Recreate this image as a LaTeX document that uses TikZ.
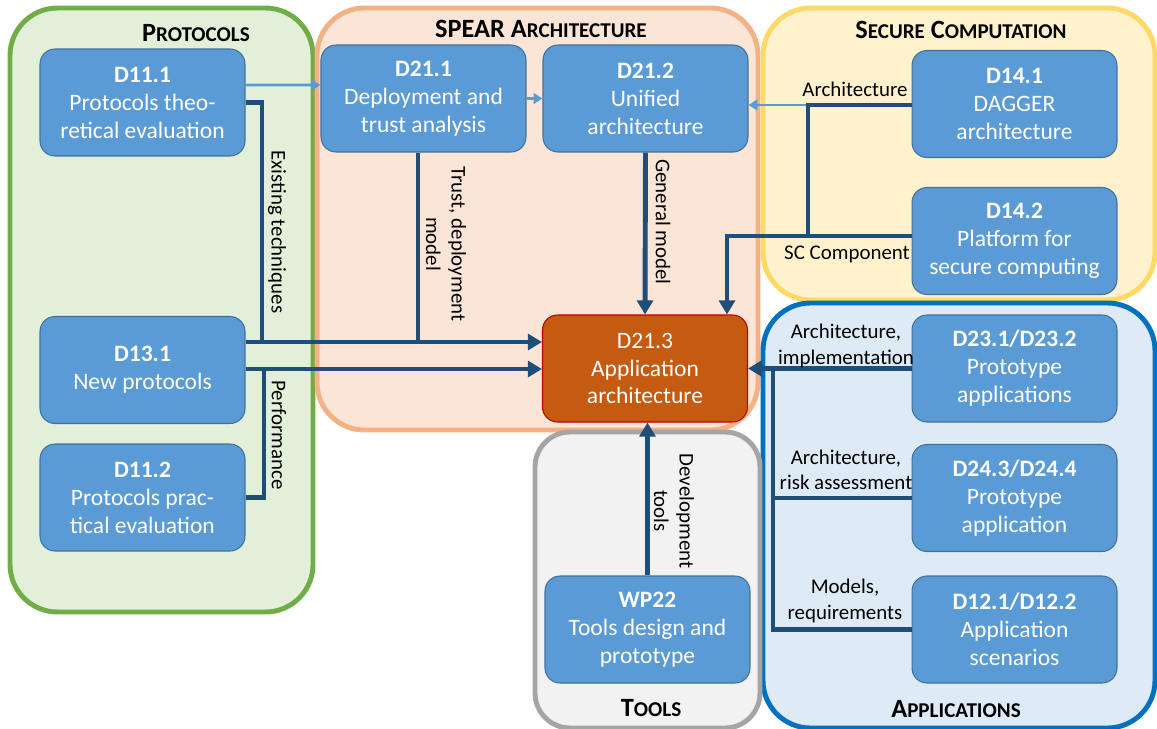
\documentclass[tikz,border=0pt]{standalone}
\usepackage{fontspec}
\setmainfont{Carlito}
\usetikzlibrary{arrows.meta}
\definecolor{boxfill}{HTML}{5B9BD5}
\definecolor{boxline}{HTML}{41719C}
\definecolor{corefill}{HTML}{C55A11}
\definecolor{coreline}{HTML}{C00000}
\definecolor{darkline}{HTML}{1F4E79}
\definecolor{protline}{HTML}{70AD47}
\definecolor{protfill}{HTML}{E2F0D9}
\definecolor{spearline}{HTML}{F4B183}
\definecolor{spearfill}{HTML}{FBE5D6}
\definecolor{secline}{HTML}{FFD966}
\definecolor{secfill}{HTML}{FFF2CC}
\definecolor{appline}{HTML}{0070C0}
\definecolor{appfill}{HTML}{DEEBF7}
\definecolor{toolline}{HTML}{A5A5A5}
\definecolor{toolfill}{HTML}{F2F2F2}
\newcommand{\lowcaps}[1]{{\fontsize{12}{13}\selectfont #1}}
\tikzset{
	wp/.style={draw=boxline, fill=boxfill, line width=0.6pt, rounded corners=0.3cm,
		minimum width=4.1cm, minimum height=2.14cm, text=white, align=center,
		font=\fontsize{13.4}{15.9}\selectfont},
	core/.style={wp, draw=coreline, fill=corefill},
	grp/.style={line width=2.8pt, rounded corners=0.95cm},
	ttl/.style={font=\bfseries\fontsize{15}{16}\selectfont},
	heavy/.style={draw=darkline, line width=2.8pt},
	lite/.style={draw=boxfill, line width=1.5pt, -{Triangle[length=5pt,width=6pt]}},
	lab/.style={font=\fontsize{11.9}{14.5}\selectfont, align=center}
}
\begin{document}
\begin{tikzpicture}[x=0.02cm, y=-0.02cm, >={Triangle[length=8pt,width=9pt]}]
	\useasboundingbox (0,0) rectangle (1157,728);
	\clip (0,0) rectangle (1157,728);
	% groups
	\draw[grp, draw=protline, fill=protfill] (10,8) rectangle (313,612);
	\draw[grp, draw=spearline, fill=spearfill] (317,8) rectangle (758,430);
	\draw[grp, draw=secline, fill=secfill] (763,8) rectangle (1155,300);
	\draw[grp, draw=appline, fill=appfill] (763,303) rectangle (1155,728);
	\draw[grp, draw=toolline, fill=toolfill, rounded corners=0.7cm] (535,432) rectangle (760,728);
	\node[ttl] (tprot) at (196,33) {P\lowcaps{ROTOCOLS}};
	\node[ttl] (tspear) at (541,29) {SPEAR A\lowcaps{RCHITECTURE}};
	\node[ttl] (tsec) at (961,30) {S\lowcaps{ECURE} C\lowcaps{OMPUTATION}};
	\node[ttl] (ttools) at (651,708) {T\lowcaps{OOLS}};
	\node[ttl] (tapps) at (956,709) {A\lowcaps{PPLICATIONS}};
	% deliverables
	\foreach \nm/\pos/\id/\txt in {
		d111/{142.5,102.5}/D11.1/{Protocols theo-\\retical evaluation},
		d131/{142.5,370}/D13.1/{New protocols},
		d112/{142.5,497.5}/D11.2/{Protocols prac-\\tical evaluation},
		d211/{423.5,98.5}/D21.1/{Deployment and\\trust analysis},
		d212/{645.5,98.5}/D21.2/{Unified\\architecture},
		d141/{1014.5,104}/D14.1/{DAGGER\\architecture},
		d142/{1014.5,241}/D14.2/{Platform for\\secure computing},
		d231/{1014.5,368.5}/{D23.1/D23.2}/{Prototype\\applications},
		d243/{1014.5,498}/{D24.3/D24.4}/{Prototype\\application},
		d121/{1014.5,629.5}/{D12.1/D12.2}/{Application\\scenarios},
		wp22/{647.5,629.5}/WP22/{Tools design and\\prototype}}
	\node[wp] (\nm) at (\pos) {\textbf{\id}\\\txt};
	\node[core] (d213) at (645,368.5) {D21.3\\Application\\architecture};
	\path
	(262,342) coordinate (exist)
	(418,342) coordinate (trust)
	(264,369) coordinate (perf)
	(808,105) coordinate (arch)
	(727,236) coordinate (sccomp)
	(773,368.5) coordinate (bus)
	;
	% links
	\draw[lite] ([yshift=10pt]d111.east) -- ([yshift=7.7pt]d211.west);
	\draw[lite] (d211.east) -- (d212.west);
	\draw[lite] (arch) -- (arch -| d212.east);
	\draw[heavy] (d111.east) -| (exist);
	\draw[heavy] (d112.east) -| (perf);
	\draw[heavy] (trust |- d211.south) -- (trust);
	\draw[heavy,->] (exist -| d131.east) -- (exist -| d213.west);
	\draw[heavy,->] (perf -| d131.east) -- (perf -| d213.west);
	\draw[heavy,->] (d212.south) -- (d213.north);
	\draw[heavy,->] (wp22.north) -- (wp22.north |- d213.south);
	\draw[heavy] (arch -| d141.west) -- (arch) -- (arch |- sccomp);
	\draw[heavy,->] (sccomp -| d142.west) -- (sccomp) -- (sccomp |- d213.north);
	\draw[heavy,->] (d231.west) -- (d213.east);
	\draw[heavy] (bus) |- (d243.west) (bus) |- (d121.west);
	% labels
	\node[lab, rotate=-90] (lexist) at (277,232) {Existing techniques};
	\node[lab, rotate=-90] (lperf) at (279,435) {Performance};
	\node[lab, rotate=-90] (ltrust) at (446,244) {Trust, deployment\\model};
	\node[lab, rotate=-90] (lgen) at (663,222) {General model};
	\node[lab, rotate=-90] (ldev) at (674,511) {Development\\tools};
	\node[lab] (larch) at (855,89) {Architecture};
	\node[lab] (lsc) at (847,254) {SC Component};
	\node[lab] (limpl) at (846,346) {Architecture,\\implementation};
	\node[lab] (lrisk) at (846,470) {Architecture,\\risk assessment};
	\node[lab] (lreq) at (845,601) {Models,\\requirements};
\end{tikzpicture}
\end{document}
